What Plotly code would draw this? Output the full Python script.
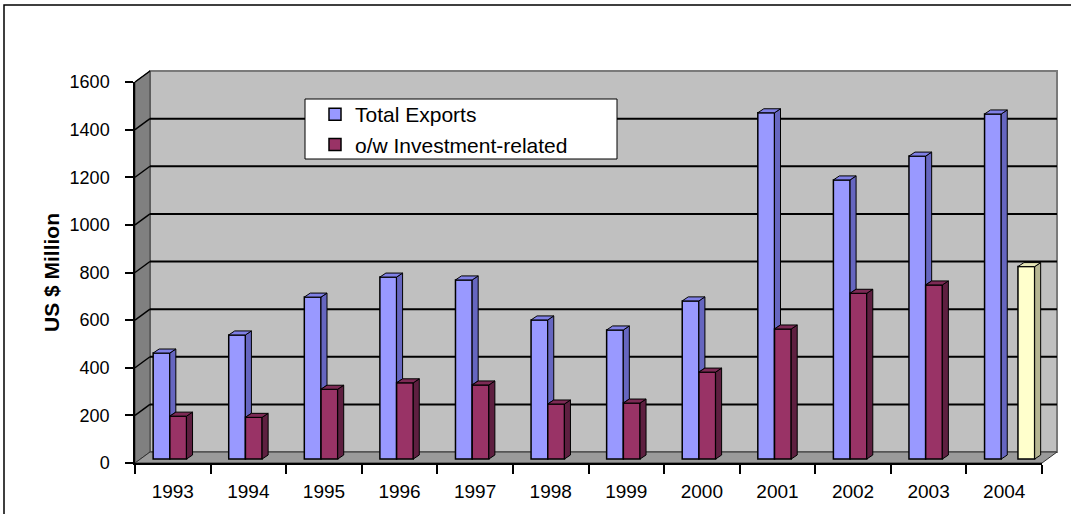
import plotly.graph_objects as go

# ---------------- data ----------------
years = ["1993", "1994", "1995", "1996", "1997", "1998",
         "1999", "2000", "2001", "2002", "2003", "2004"]
total_exports = [445, 521, 680, 764, 752, 584, 542, 664, 1454, 1172, 1272, 1449]
investment_related = [180, 175, 293, 320, 311, 231, 235, 365, 546, 696, 731, None]
estimate_2004 = [None] * 11 + [808]
y_ticks = [0, 200, 400, 600, 800, 1000, 1200, 1400, 1600]
series_names = ["Total Exports", "o/w Investment-related", "2004 (est.)"]

# ---------------- layout geometry (pixels) ----------------
W, H = 1071, 514
L, R, T, B = 135, 29, 82, 51
PW, PH = W - L - R, H - T - B
YMAX = 1600
UNIT = PH / YMAX              # px per value unit
NCAT = len(years)
CAT = PW / NCAT               # px per category

BACK_DX, BACK_DY = 15, 11     # depth offset of back wall
MID_DX, MID_DY = 5.4, 4       # depth offset of bars
BAR_PX = 16.7                 # bar front width
FACE_DX, FACE_DY = 6, 4       # 3-D face depth of bars

FONT = "Liberation Sans, Arial, sans-serif"


def px_x(px):
    return (px - L) / PW


def px_y(py):
    return (H - B - py) / PH


def front_y(v):
    return v / YMAX


def back_y(v):
    return (v * UNIT + BACK_DY) / PH


bw = BAR_PX / CAT
shift = MID_DX / CAT
offsets = [-1.5 * bw + shift, -0.5 * bw + shift, 0.5 * bw + shift]
base = MID_DY / UNIT
fdx = FACE_DX / CAT
fdy = FACE_DY / UNIT

front_cols = ["#9999FF", "#993366", "#FFFFCC"]
side_cols = ["#6666C0", "#5E1F40", "#B5B592"]
top_cols = ["#8080E6", "#7D2A55", "#E6E6B8"]

series = [total_exports, investment_related, estimate_2004]
xs = list(range(NCAT))

fig = go.Figure()
for k, vals in enumerate(series):
    fig.add_trace(go.Bar(
        x=xs, y=vals, base=base, name=series_names[k],
        width=bw, offset=offsets[k],
        marker=dict(color=front_cols[k], line=dict(color="black", width=1.5)),
        showlegend=(k < 2),
    ))

shapes = []
bx0, bx1 = px_x(L + BACK_DX), px_x(L + PW + BACK_DX)

# back wall
shapes.append(dict(type="rect", xref="paper", yref="paper", layer="below",
                   x0=bx0, x1=bx1, y0=back_y(0), y1=back_y(YMAX),
                   fillcolor="#C0C0C0", line=dict(color="#7A7A7A", width=2)))
# left side wall
shapes.append(dict(type="path", xref="paper", yref="paper", layer="below",
                   path=f"M 0,{front_y(0)} L 0,{front_y(YMAX)} L {bx0},{back_y(YMAX)} L {bx0},{back_y(0)} Z",
                   fillcolor="#808080", line=dict(color="#404040", width=1)))
# floor
shapes.append(dict(type="path", xref="paper", yref="paper", layer="below",
                   path=f"M 0,{front_y(0)} L 1,{front_y(0)} L {bx1},{back_y(0)} L {bx0},{back_y(0)} Z",
                   fillcolor="#9A9A9A", line=dict(color="#303030", width=1)))
# back wall gridlines + connectors on side wall
for v in y_ticks:
    if 0 < v < YMAX:
        shapes.append(dict(type="line", xref="paper", yref="paper", layer="below",
                           x0=bx0, x1=bx1, y0=back_y(v), y1=back_y(v),
                           line=dict(color="black", width=2)))
    if v > 0:
        shapes.append(dict(type="line", xref="paper", yref="paper", layer="below",
                           x0=0, x1=bx0, y0=front_y(v), y1=back_y(v),
                           line=dict(color="black", width=1.5)))

# 3-D faces of bars (derived from the data)
for k, vals in enumerate(series):
    nxt = series[k + 1] if k + 1 < len(series) else [None] * NCAT
    for i, v in enumerate(vals):
        if v is None:
            continue
        xl = i + offsets[k]
        xr = xl + bw
        y1 = base + v
        lower = base
        if nxt[i] is not None:
            lower = max(base, base + nxt[i])
        if lower < y1:
            shapes.append(dict(type="path", xref="x", yref="y", layer="above",
                               path=f"M {xr},{lower} L {xr},{y1} L {xr+fdx},{y1+fdy} L {xr+fdx},{lower+fdy} Z",
                               fillcolor=side_cols[k], line=dict(color="black", width=1)))
        shapes.append(dict(type="path", xref="x", yref="y", layer="above",
                           path=f"M {xl},{y1} L {xr},{y1} L {xr+fdx},{y1+fdy} L {xl+fdx},{y1+fdy} Z",
                           fillcolor=top_cols[k], line=dict(color="black", width=1)))

# legend box
shapes.append(dict(type="rect", xref="paper", yref="paper", layer="above",
                   x0=px_x(305), x1=px_x(617), y0=px_y(159), y1=px_y(99),
                   fillcolor="white", line=dict(color="black", width=1)))
# outer chart border
shapes.append(dict(type="rect", xref="paper", yref="paper", layer="above",
                   x0=px_x(4), x1=px_x(W + 20), y0=px_y(H + 20), y1=px_y(5),
                   fillcolor="rgba(0,0,0,0)", line=dict(color="black", width=1.5)))

fig.update_layout(
    template="none",
    width=W, height=H,
    margin=dict(l=L, r=R, t=T, b=B, pad=0),
    paper_bgcolor="white", plot_bgcolor="rgba(0,0,0,0)",
    font=dict(family=FONT, size=18, color="black"),
    barmode="overlay",
    shapes=shapes,
    showlegend=True,
    legend=dict(x=px_x(315), y=px_y(94), xanchor="left", yanchor="top",
                bgcolor="rgba(0,0,0,0)", borderwidth=0,
                font=dict(family=FONT, size=21, color="black"),
                traceorder="normal", tracegroupgap=0),
    xaxis=dict(range=[-0.5, NCAT - 0.5], tickmode="array", tickvals=xs, ticktext=years,
               ticks="", showgrid=False, zeroline=False, automargin=False,
               showline=True, linecolor="black", linewidth=1.5,
               ticklabelstandoff=10, fixedrange=True,
               tickfont=dict(family=FONT, size=19, color="black"),
               minor=dict(tickmode="linear", tick0=-0.5, dtick=1, ticks="outside",
                          ticklen=9, tickcolor="black", tickwidth=1.5, showgrid=False)),
    yaxis=dict(range=[0, YMAX], tickmode="array", tickvals=y_ticks,
               ticks="outside", ticklen=8, tickcolor="black", tickwidth=1.5,
               showgrid=False, zeroline=False, automargin=False,
               showline=True, linecolor="black", linewidth=1.5,
               ticklabelstandoff=12, fixedrange=True,
               tickfont=dict(family=FONT, size=18, color="black"),
               title=dict(text="US $ Million", standoff=4,
                          font=dict(family=FONT, size=21, weight="bold", color="black"))),
)

fig.write_html("out.html")
